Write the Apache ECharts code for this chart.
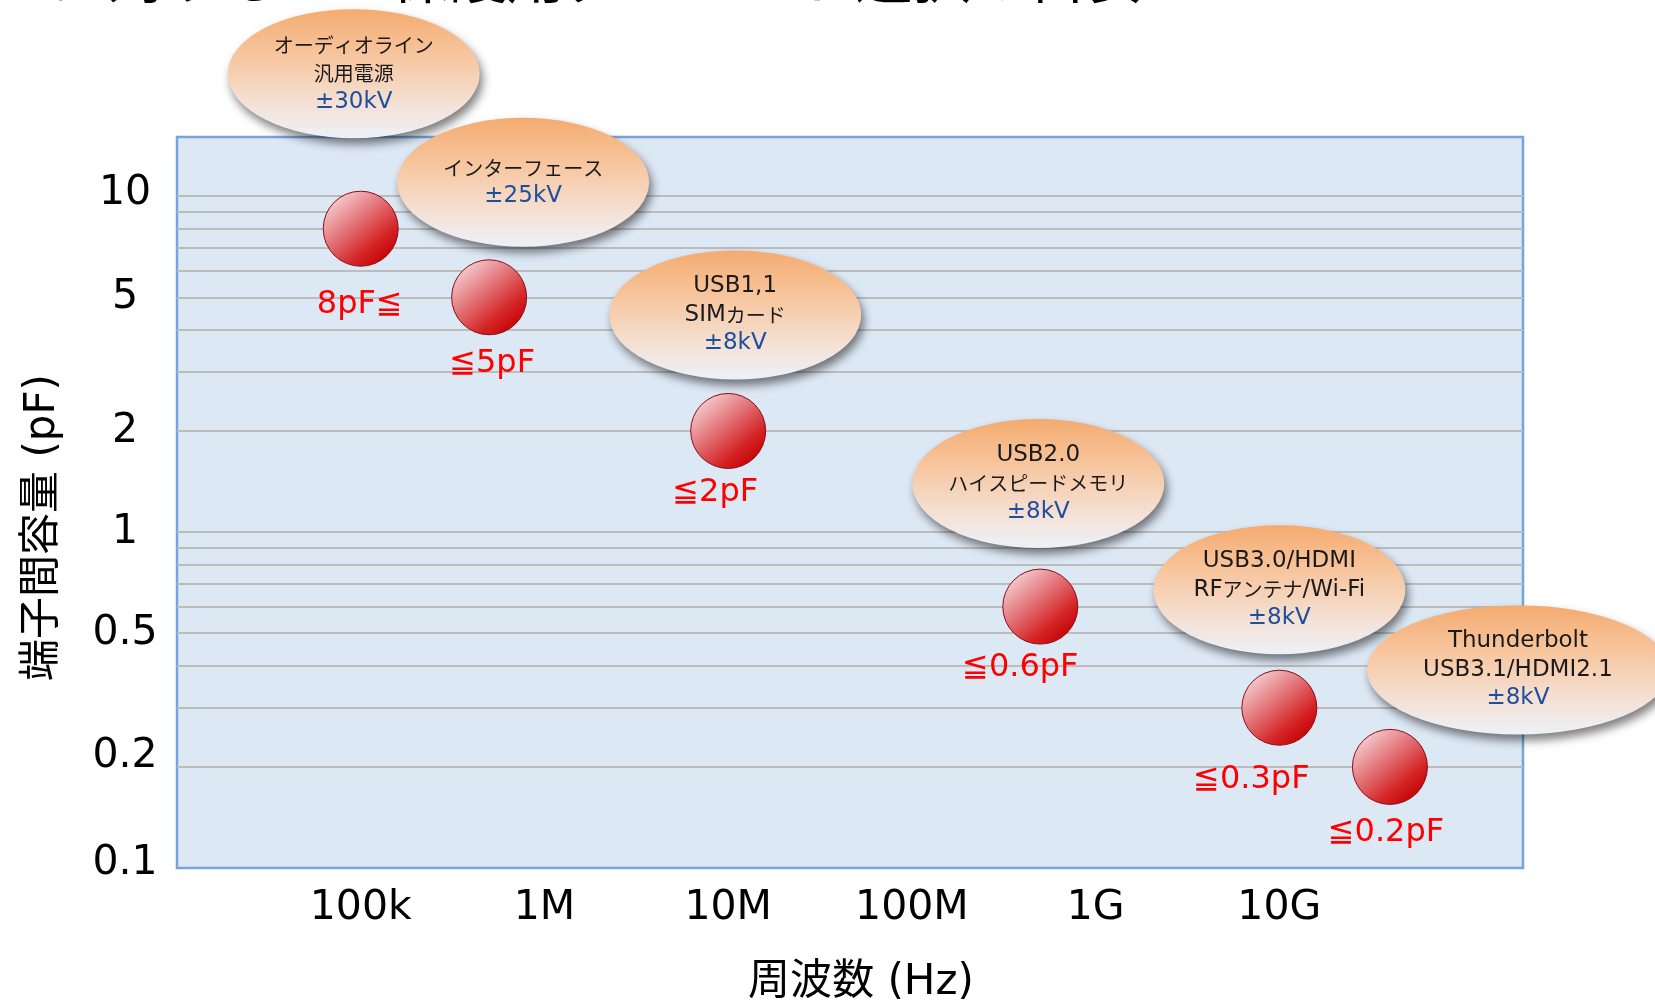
<!DOCTYPE html>
<html>
<head>
<meta charset="utf-8">
<script src="https://cdn.jsdelivr.net/npm/echarts@6/dist/echarts.min.js"></script>
<style>
html,body{margin:0;padding:0;background:#ffffff;}
#chart{width:1655px;height:1000px;}
</style>
</head>
<body>
<div id="chart"></div>
<script>
// ---------------- data ----------------
const titleText = 'インターフェースに対するESD保護用ダイオード選択の目安';
const applications = ['オーディオライン\n汎用電源', 'インターフェース', 'USB1,1\nSIMカード', 'USB2.0\nハイスピードメモリ', 'USB3.0/HDMI\nRFアンテナ/Wi-Fi', 'Thunderbolt\nUSB3.1/HDMI2.1'];
const esdLevels = ['±30kV', '±25kV', '±8kV', '±8kV', '±8kV', '±8kV'];
const frequencyHz = [1e5, 5e5, 1e7, 5e8, 1e10, 4e10];
const capacitancePF = [8, 5, 2, 0.6, 0.3, 0.2];
const capacitanceLabels = ['8pF≦', '≦5pF', '≦2pF', '≦0.6pF', '≦0.3pF', '≦0.2pF'];
const xTickValues = [1e5, 1e6, 1e7, 1e8, 1e9, 1e10];
const xTickLabels = ['100k', '1M', '10M', '100M', '1G', '10G'];
const yTickValues = [0.1, 0.2, 0.5, 1, 2, 5, 10];
const yTickLabels = ['0.1', '0.2', '0.5', '1', '2', '5', '10'];
const yGridValues = [0.2, 0.3, 0.4, 0.5, 0.6, 0.7, 0.8, 0.9, 1, 2, 3, 4, 5, 6, 7, 8, 9, 10];
const xAxisName = '周波数 (Hz)';
const yAxisName = '端子間容量 (pF)';

// ---------------- layout / style ----------------
const calloutOffsets = [[-7, -155], [34, -115], [7, -116], [-2, -123], [0, -118], [128, -97]];
const calloutSizes = [[252, 129], [252, 129], [252, 129], [252, 129], [252, 129], [302, 129]];
const pointLabelOffsets = [[-1, 76], [3, 66], [-13, 62], [-20, 61], [-28, 72], [-4, 66]];
const yLabelLift = [10, 21, 0, 0, 0, 0, 6]; // extra bottom padding per y label (moves label up by half)
const LATIN = "'DejaVu Sans', 'Noto Sans CJK JP', sans-serif";
const CJK = "'Noto Sans CJK JP', 'DejaVu Sans', sans-serif";

function nearestIndex(v, values) {
  const lv = Math.log10(v);
  for (let i = 0; i < values.length; i++) {
    if (Math.abs(Math.log10(values[i]) - lv) < 0.005) return i;
  }
  return -1;
}
function richLine(s) {
  const runs = s.match(/[\x20-\x7E±]+|[^\x20-\x7E±]+/g) || [];
  return runs.map(r => (/[\x20-\x7E±]/.test(r[0]) ? '{a|' + r + '}' : '{j|' + r + '}')).join('');
}
const yLabelRich = {};
yLabelLift.forEach((p, i) => {
  yLabelRich['y' + i] = { fontFamily: LATIN, fontSize: 41, color: '#000000', padding: [0, 0, p, 0] };
});

const chart = echarts.init(document.getElementById('chart'), null, { renderer: 'canvas' });

const option = {
  backgroundColor: '#ffffff',
  animation: false,
  title: {
    text: titleText,
    right: 510,
    top: -53,
    padding: 0,
    textStyle: { fontFamily: CJK, fontSize: 58, fontWeight: 'normal', color: '#000000' }
  },
  grid: {
    show: true,
    left: 177, top: 137, width: 1346, height: 731,
    backgroundColor: '#dde8f5',
    borderColor: '#76a4dc',
    borderWidth: 2.5,
    containLabel: false,
    outerBoundsMode: 'none'
  },
  xAxis: {
    type: 'log',
    logBase: 10,
    min: 1e4,
    max: 2.12e11,
    name: xAxisName,
    nameLocation: 'middle',
    nameGap: 94,
    nameTextStyle: { fontFamily: LATIN, fontSize: 42, color: '#000000', padding: [0, 0, 0, 22] },
    axisLine: { show: false },
    axisTick: { show: false },
    splitLine: { show: false },
    minorSplitLine: { show: false },
    axisLabel: {
      customValues: xTickValues,
      margin: 20,
      fontFamily: LATIN,
      fontSize: 41,
      color: '#000000',
      formatter: v => { const i = nearestIndex(v, xTickValues); return i < 0 ? '' : xTickLabels[i]; }
    }
  },
  yAxis: {
    type: 'log',
    logBase: 10,
    min: 0.1,
    max: 15,
    name: yAxisName,
    nameLocation: 'middle',
    nameRotate: 90,
    nameGap: 113,
    nameTextStyle: { fontFamily: LATIN, fontSize: 42, color: '#000000', padding: [0, 50, 0, 0] },
    axisLine: { show: false },
    axisTick: { show: false, customValues: yGridValues },
    axisLabel: {
      customValues: yTickValues,
      margin: 52,
      align: 'center',
      fontFamily: LATIN,
      fontSize: 41,
      color: '#000000',
      formatter: v => { const i = nearestIndex(v, yTickValues); return i < 0 ? '' : '{y' + i + '|' + yTickLabels[i] + '}'; },
      rich: yLabelRich
    },
    splitLine: { show: true, lineStyle: { color: '#bcbcbc', width: 2 } }
  },
  series: [
    {
      type: 'scatter',
      name: '端子間容量',
      clip: false,
      silent: true,
      z: 3,
      symbol: 'circle',
      symbolSize: 75,
      data: frequencyHz.map((f, i) => ({ value: [f, capacitancePF[i]], label: { offset: pointLabelOffsets[i] } })),
      itemStyle: {
        color: {
          type: 'linear', x: 0.15, y: 0.08, x2: 0.85, y2: 0.92,
          colorStops: [
            { offset: 0, color: '#f5d0d3' },
            { offset: 0.4, color: '#e27478' },
            { offset: 0.75, color: '#d42426' },
            { offset: 1, color: '#c40000' }
          ]
        },
        borderColor: '#8e0a18',
        borderWidth: 1,
        opacity: 1
      },
      label: {
        show: true,
        position: 'inside',
        formatter: p => capacitanceLabels[p.dataIndex],
        fontFamily: LATIN,
        fontSize: 32,
        color: '#ff0000',
        textBorderWidth: 0
      }
    },
    {
      type: 'scatter',
      name: '用途',
      clip: false,
      silent: true,
      z: 4,
      symbol: 'circle',
      data: frequencyHz.map((f, i) => ({ value: [f, capacitancePF[i]], symbolOffset: calloutOffsets[i], symbolSize: calloutSizes[i] })),
      itemStyle: {
        color: {
          type: 'linear', x: 0, y: 0, x2: 0, y2: 1,
          colorStops: [
            { offset: 0, color: '#f4ab70' },
            { offset: 0.35, color: '#f7c59d' },
            { offset: 0.75, color: '#f4e2d7' },
            { offset: 1, color: '#edf1f8' }
          ]
        },
        shadowBlur: 10,
        shadowColor: 'rgba(0,0,0,0.5)',
        shadowOffsetX: 3,
        shadowOffsetY: 6,
        opacity: 1
      },
      label: {
        show: true,
        position: 'inside',
        textBorderWidth: 0,
        formatter: p => {
          const lines = applications[p.dataIndex].split('\n').map(richLine);
          lines.push('{v|' + esdLevels[p.dataIndex] + '}');
          return lines.join('\n');
        },
        rich: {
          a: { fontFamily: LATIN, fontSize: 23, color: '#1a1a1a', lineHeight: 28.5 },
          j: { fontFamily: CJK, fontSize: 20, color: '#1a1a1a', lineHeight: 28.5 },
          v: { fontFamily: LATIN, fontSize: 23, color: '#1f4e9e', lineHeight: 28.5 }
        }
      }
    }
  ]
};
chart.setOption(option);
</script>
</body>
</html>
